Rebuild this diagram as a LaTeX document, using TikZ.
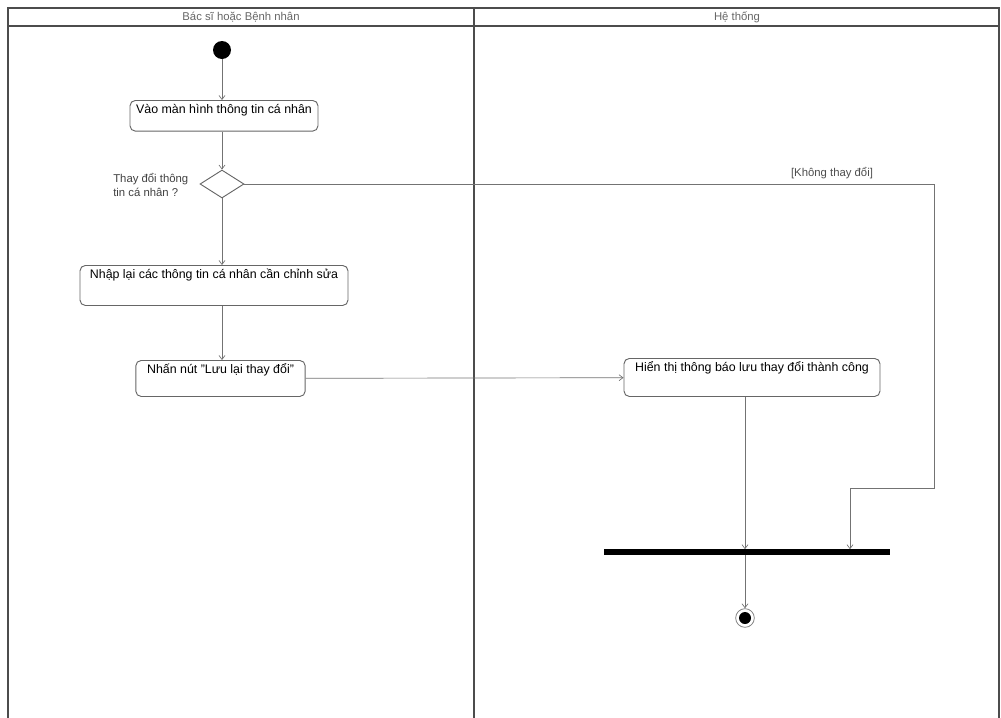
\documentclass[tikz,border=0pt]{standalone}
\usepackage{fontspec}
\setmainfont{Liberation Sans}
\usetikzlibrary{shapes.geometric,arrows.meta}

\begin{document}
\begin{tikzpicture}[
    x=0.75pt, y=-0.75pt,
    every node/.style={font=\fontsize{8.5}{10}\selectfont},
    lane/.style={draw=black!70, line width=1.3pt},
    act/.style={draw=black!60, rounded corners=4pt, line width=0.7pt, anchor=north,
        font=\fontsize{9.3}{11}\selectfont, inner xsep=3pt, inner ysep=3pt, text height=7pt},
    flow/.style={draw=black!55, line width=0.5pt, -{Straight Barb[length=3pt,width=4.5pt]}},
]
    \useasboundingbox (0,0) rectangle (1001,718);%page size

    % swimlanes
    \draw[lane] (8,718) -- (8,8) -- (999,8) -- (999,718);
    \draw[lane] (8,26) -- (999,26);
    \draw[lane] (474,8) -- (474,718);
    \node[text=black!60] (laneUser) at (241,17) {Bác sĩ hoặc Bệnh nhân};
    \node[text=black!60] (laneSys) at (737,17) {Hệ thống};

    % nodes
    \node[circle, fill=black, minimum size=13.5pt, inner sep=0] (start) at (222,50) {};
    \node[act, minimum width=141pt, text depth=10pt] (open) at (224,100) {Vào màn hình thông tin cá nhân};
    \node[diamond, draw=black!60, line width=0.7pt, aspect=1.5, minimum width=33pt, minimum height=21pt, inner sep=0] (choice) at (222,184) {};
    \node[anchor=east, align=left, text=black!75] (ask) at (193,185) {Thay đổi thông\\tin cá nhân ?};
    \node[act, minimum width=201pt, text depth=17pt] (edit) at (214,265) {Nhập lại các thông tin cá nhân cần chỉnh sửa};
    \node[act, minimum width=127pt, text depth=14pt] (save) at (220.5,360) {Nhấn nút "Lưu lại thay đổi"};
    \node[act, minimum width=192pt, text depth=15.5pt] (notify) at (752,358) {Hiển thị thông báo lưu thay đổi thành công};
    \node[fill=black, minimum width=214.5pt, minimum height=3.8pt, inner sep=0] (join) at (747,552) {};
    \node[circle, draw=black!50, line width=0.6pt, minimum size=14pt, inner sep=0,
        path picture={\fill (path picture bounding box.center) circle (4.5pt);}] (finish) at (745,618) {};
    \coordinate (skipA) at (934,488);
    \coordinate (skipB) at (850,488);

    % connectors
    \draw[flow] (start) -- (open.north -| start);
    \draw[flow] (open.south -| choice) -- (choice);
    \draw[flow] (choice) -- (edit.north -| choice);
    \draw[flow] (edit.south -| choice) -- (save.north -| choice);
    \draw[flow] (save) -- (notify);
    \draw[flow] (notify.south -| finish) -- (join.north -| finish);
    \draw[flow] (choice.east) -| (skipA) -- (skipB) -- (skipB |- join.north);
    \node[above, text=black!70] (nochange) at (832,184) {[Không thay đổi]};
    \draw[flow] (join.south -| finish) -- (finish);
\end{tikzpicture}
\end{document}
